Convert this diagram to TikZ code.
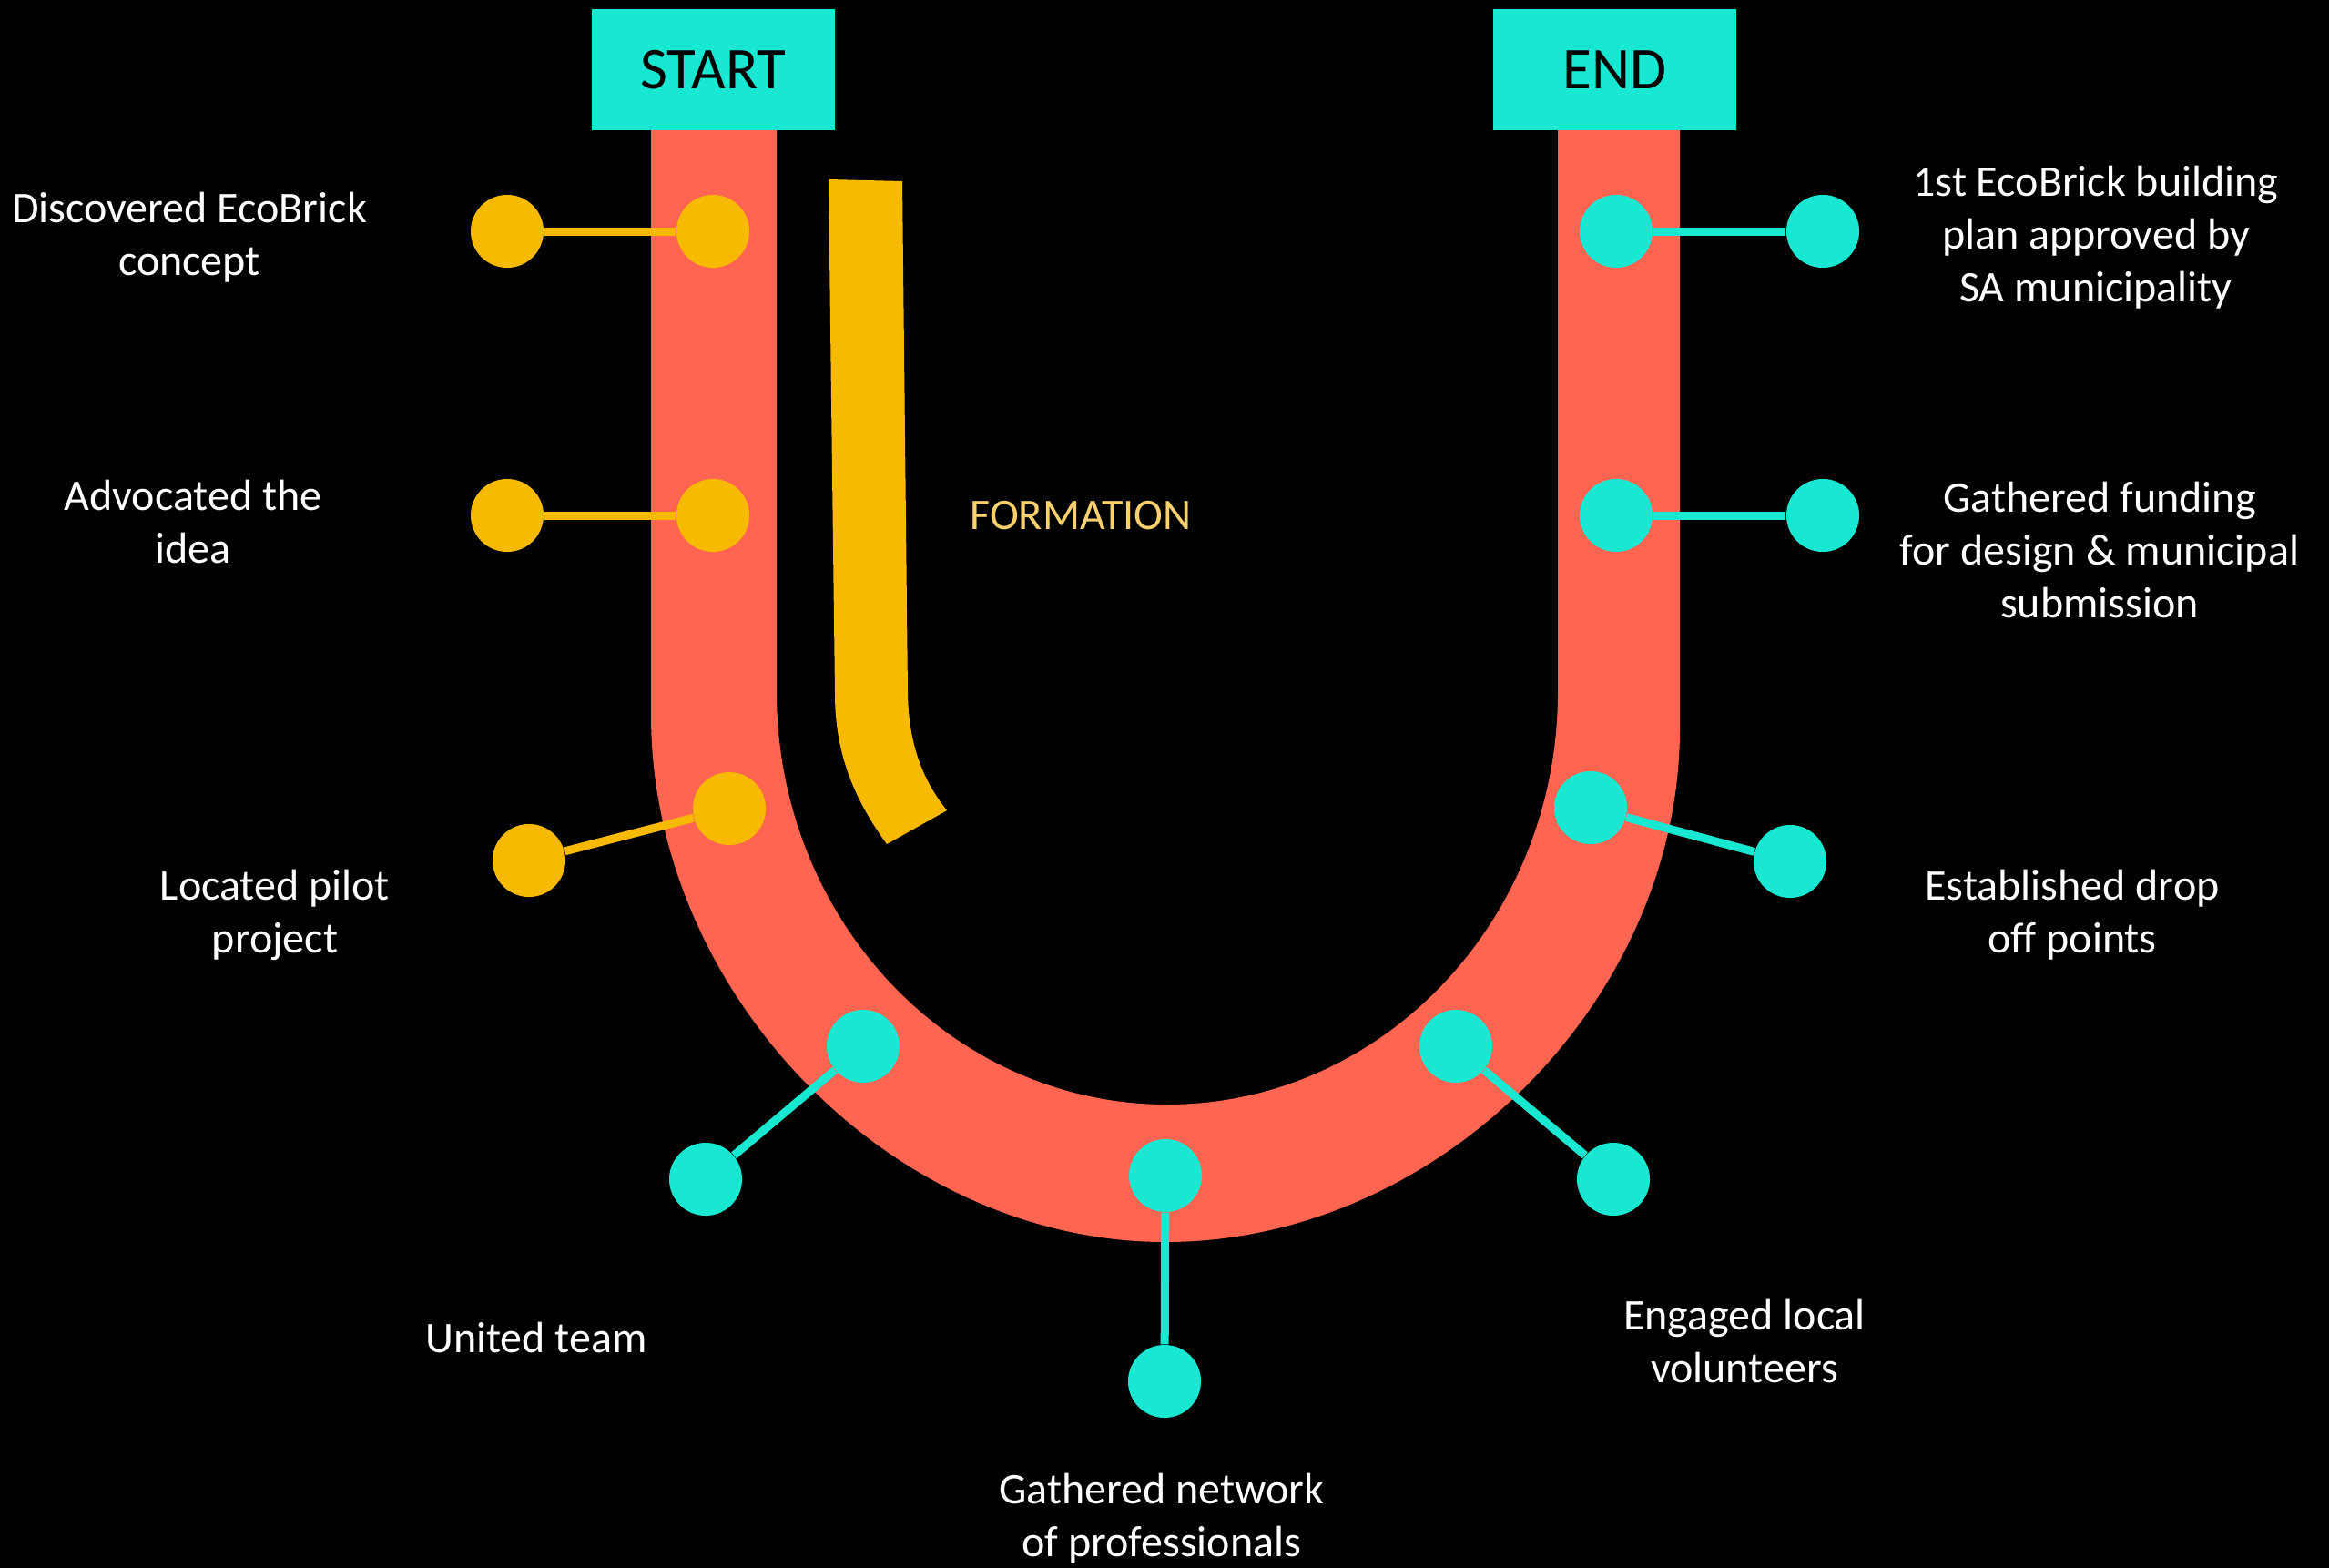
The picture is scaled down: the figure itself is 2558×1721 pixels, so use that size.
\documentclass[tikz,border=0pt]{standalone}
\usepackage{fontspec}
\setmainfont{Carlito}
\definecolor{bandred}{HTML}{FF6550}
\definecolor{ygold}{HTML}{F8BA00}
\definecolor{cyanx}{HTML}{18E8D2}
\definecolor{formtxt}{HTML}{FAD16E}
\begin{document}
\begin{tikzpicture}[x=0.01cm,y=-0.01cm,
  band/.style={fill=bandred,draw=none},
  bar/.style={fill=ygold,draw=none},
  dotY/.style={circle,fill=ygold,draw=none,minimum size=0.8cm,inner sep=0pt},
  dotC/.style={circle,fill=cyanx,draw=none,minimum size=0.8cm,inner sep=0pt},
  linkY/.style={draw=ygold,line width=0.09cm},
  linkC/.style={draw=cyanx,line width=0.09cm},
  lbl/.style={text=white,align=center,inner sep=0pt,font=\fontsize{13.66}{16.5}\selectfont},
  endbox/.style={fill=cyanx,draw=none,minimum width=2.67cm,minimum height=1.33cm,inner sep=0pt,text=black,font=\fontsize{18.5}{22}\selectfont}
]
\useasboundingbox (0,0) rectangle (2558,1721);
\fill[black] (-20,-20) rectangle (2578,1741);

% U band
\path[band] (715,120) -- (715,785)
  .. controls (715,1092) and (981,1364) .. (1280,1364)
  .. controls (1579,1364) and (1845,1099) .. (1845,800)
  -- (1845,120) -- (1711,120) -- (1711,760)
  .. controls (1711,1010) and (1519,1213) .. (1282,1213)
  .. controls (1045,1213) and (853,1010) .. (853,760)
  -- (853,120) -- cycle;

% formation bar
\path[bar] (910,197) -- (991,199) -- (997,762)
  .. controls (998,815) and (1012,855) .. (1040,890)
  -- (974,927)
  .. controls (940,880) and (917,830) .. (917,762) -- cycle;

% boxes
\node[endbox] (start) at (783.5,76.5) {START};
\node[endbox] (end) at (1773.5,76.5) {END};

% dots
\node[dotY] (y1a) at (557,254) {};
\node[dotY] (y1b) at (783,254) {};
\node[dotY] (y2a) at (557,566) {};
\node[dotY] (y2b) at (783,566) {};
\node[dotY] (y3a) at (581,945) {};
\node[dotY] (y3b) at (801,888) {};
\node[dotC] (c1b) at (948,1149) {};
\node[dotC] (c1a) at (775,1295) {};
\node[dotC] (c2b) at (1280,1291) {};
\node[dotC] (c2a) at (1279,1517) {};
\node[dotC] (c3b) at (1599,1149) {};
\node[dotC] (c3a) at (1772,1295) {};
\node[dotC] (c4b) at (1747,887) {};
\node[dotC] (c4a) at (1966,946) {};
\node[dotC] (c5b) at (1775,566) {};
\node[dotC] (c5a) at (2002,566) {};
\node[dotC] (c6b) at (1775,254) {};
\node[dotC] (c6a) at (2002,254) {};

% connectors
\draw[linkY] (y1a) -- (y1b);
\draw[linkY] (y2a) -- (y2b);
\draw[linkY] (y3a) -- (y3b);
\draw[linkC] (c1a) -- (c1b);
\draw[linkC] (c2a) -- (c2b);
\draw[linkC] (c3a) -- (c3b);
\draw[linkC] (c4a) -- (c4b);
\draw[linkC] (c5a) -- (c5b);
\draw[linkC] (c6a) -- (c6b);

% labels
\node[lbl] (t1) at (208,261) {Discovered EcoBrick\\concept};
\node[lbl] (t2) at (212,573) {Advocated the\\idea};
\node[lbl] (t3) at (302,1005) {Located pilot\\project};
\node[lbl] (t4) at (589,1469) {United team};
\node[lbl] (t5) at (1276,1668) {Gathered network\\of professionals};
\node[lbl] (t6) at (1916,1473) {Engaged local\\volunteers};
\node[lbl] (t7) at (2276,1005) {Established drop\\off points};
\node[lbl] (t8) at (2306,604) {Gathered funding\\for design \& municipal\\submission};
\node[lbl] (t9) at (2302,261) {1st EcoBrick building\\plan approved by\\SA municipality};
\node[lbl,text=formtxt] (form) at (1187,566) {FORMATION};
\end{tikzpicture}
\end{document}
